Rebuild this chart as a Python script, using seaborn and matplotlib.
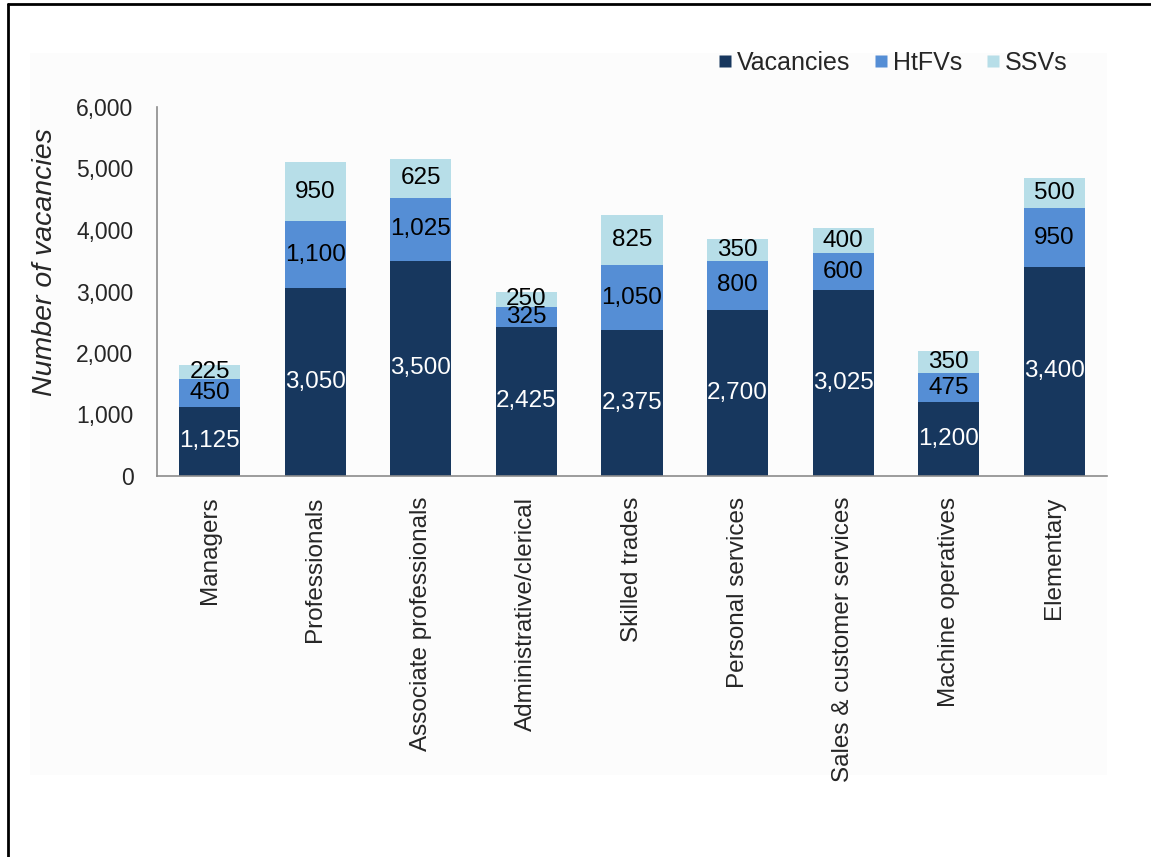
import matplotlib
matplotlib.use("Agg")
import matplotlib.pyplot as plt
from matplotlib.patches import Rectangle
from matplotlib.lines import Line2D
import numpy as np
import pandas as pd
import seaborn as sns

categories = ["Managers", "Professionals", "Associate professionals",
              "Administrative/clerical", "Skilled trades", "Personal services",
              "Sales & customer services", "Machine operatives", "Elementary"]
vacancies = [1125, 3050, 3500, 2425, 2375, 2700, 3025, 1200, 3400]
htfvs = [450, 1100, 1025, 325, 1050, 800, 600, 475, 950]
ssvs = [225, 950, 625, 250, 825, 350, 400, 350, 500]
series_names = ["Vacancies", "HtFVs", "SSVs"]
y_ticks = [0, 1000, 2000, 3000, 4000, 5000, 6000]

colors = {"Vacancies": "#17375E", "HtFVs": "#558ED5", "SSVs": "#B7DEE8"}
label_colors = {"Vacancies": "white", "HtFVs": "black", "SSVs": "black"}

sns.set_theme(style="white")
plt.rcParams["font.family"] = ["Liberation Sans", "DejaVu Sans"]

df = pd.DataFrame({"category": categories, "Vacancies": vacancies,
                   "HtFVs": htfvs, "SSVs": ssvs})
df["lvl1"] = df["Vacancies"]
df["lvl2"] = df["Vacancies"] + df["HtFVs"]
df["lvl3"] = df["lvl2"] + df["SSVs"]

fig = plt.figure(figsize=(11.51, 8.57), dpi=100)

# faint panel behind the chart area
fig.patches.append(Rectangle((30 / 1151, 1 - 775 / 857), (1107 - 30) / 1151,
                             (775 - 53) / 857, transform=fig.transFigure,
                             facecolor="#FCFCFC", edgecolor="none", zorder=-5))
# frame lines on the top and left edges
fig.add_artist(Line2D([8 / 1151, 1.0], [1 - 4 / 857, 1 - 4 / 857],
                      transform=fig.transFigure, color="black", lw=2.0))
fig.add_artist(Line2D([8 / 1151, 8 / 1151], [0, 1 - 4 / 857],
                      transform=fig.transFigure, color="black", lw=2.0))

ax = fig.add_axes([157 / 1151, 1 - 476 / 857, (1107 - 157) / 1151, (476 - 107) / 857])
ax.set_facecolor("none")

# stacked bars drawn as overlapping cumulative totals
for col, name in [("lvl3", "SSVs"), ("lvl2", "HtFVs"), ("lvl1", "Vacancies")]:
    sns.barplot(data=df, x="category", y=col, order=categories, color=colors[name],
                saturation=1, width=0.58, ax=ax, errorbar=None, edgecolor="none")

# segment value labels
for i in range(len(categories)):
    bottom = 0
    for name in series_names:
        val = df[name].iloc[i]
        ax.text(i, bottom + val / 2, f"{val:,}", ha="center", va="center",
                fontsize=17.5, color=label_colors[name])
        bottom += val

ax.set_ylim(0, 6000)
ax.set_xlim(-0.5, len(categories) - 0.5)
ax.set_yticks(y_ticks)
ax.set_yticklabels([f"{t:,}" for t in y_ticks], fontsize=16.5)
ax.tick_params(axis="y", length=0, pad=17)
ax.tick_params(axis="x", length=0, pad=15)
ax.set_xticks(range(len(categories)))
ax.set_xticklabels(categories, rotation=90, ha="center", va="top", fontsize=17.5)
ax.set_xlabel("")
ax.set_ylabel("Number of vacancies", fontsize=20.5, style="italic")
ax.yaxis.set_label_coords(-0.118, 0.58)
ax.yaxis.label.set_verticalalignment("center")

for side in ["top", "right"]:
    ax.spines[side].set_visible(False)
for side in ["left", "bottom"]:
    ax.spines[side].set_color("#8C8C8C")
    ax.spines[side].set_linewidth(1.2)

handles = [Line2D([0], [0], marker="s", linestyle="none", markersize=8.5,
                  markerfacecolor=colors[n], markeredgecolor="none") for n in series_names]
fig.legend(handles, series_names, ncol=3, frameon=False, fontsize=18,
           loc="center", bbox_to_anchor=(890 / 1151, 1 - 63 / 857),
           handletextpad=0.0, columnspacing=0.7, handlelength=1.0)

fig.savefig("out.png", dpi=100)
